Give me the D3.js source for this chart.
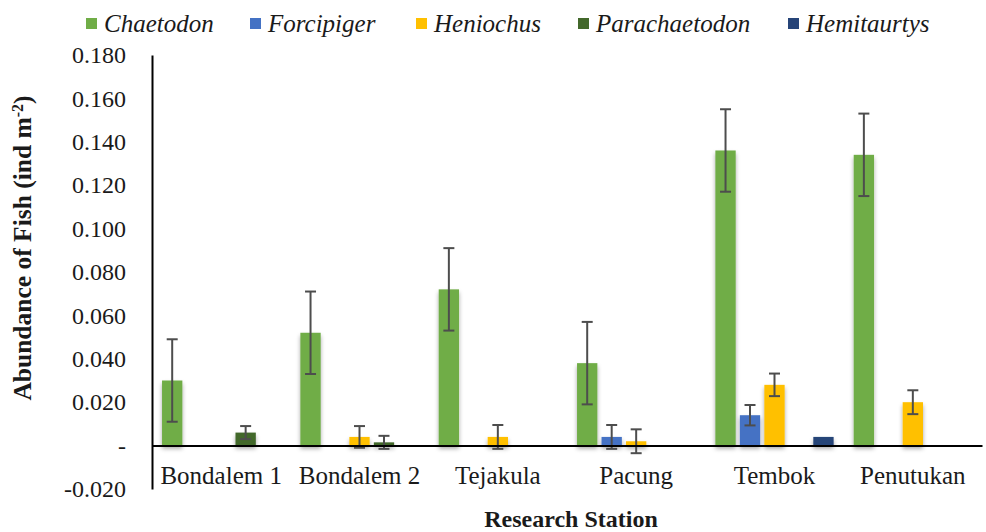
<!DOCTYPE html>
<html>
<head>
<meta charset="utf-8">
<script src="https://cdn.jsdelivr.net/npm/d3@7/dist/d3.min.js"></script>
<style>
  html, body { margin: 0; padding: 0; background: #fff; }
  svg { display: block; }
  text { font-family: "Liberation Serif", "Times New Roman", serif; fill: #1a1a1a; }
</style>
</head>
<body>
<svg id="chart" width="986" height="532"></svg>
<script>
// Butterflyfish abundance per research station (ind m^-2), mean ± error
const stations = ["Bondalem 1", "Bondalem 2", "Tejakula", "Pacung", "Tembok", "Penutukan"];
const genera = ["Chaetodon", "Forcipiger", "Heniochus", "Parachaetodon", "Hemitaurtys"];
const colors = ["#70AD47", "#4472C4", "#FFC000", "#43682B", "#264478"];

const chaetodon      = [0.030, 0.052, 0.072, 0.038, 0.136, 0.134];
const forcipiger     = [0, 0, 0, 0.004, 0.014, 0];
const heniochus      = [0, 0.004, 0.004, 0.002, 0.028, 0.020];
const parachaetodon  = [0.006, 0.0015, 0, 0, 0, 0];
const hemitaurtys    = [0, 0, 0, 0, 0.004, 0];

const chaetodonErr     = [0.019, 0.019, 0.019, 0.019, 0.019, 0.019];
const forcipigerErr    = [0, 0, 0, 0.0055, 0.0047, 0];
const heniochusErr     = [0, 0.005, 0.0055, 0.0055, 0.0052, 0.0055];
const parachaetodonErr = [0.003, 0.003, 0, 0, 0, 0];
const hemitaurtysErr   = [0, 0, 0, 0, 0, 0];

const yTicks = [-0.02, 0, 0.02, 0.04, 0.06, 0.08, 0.10, 0.12, 0.14, 0.16, 0.18];
const yTickLabels = ["-0.020", "-", "0.020", "0.040", "0.060", "0.080", "0.100", "0.120", "0.140", "0.160", "0.180"];

const values = [chaetodon, forcipiger, heniochus, parachaetodon, hemitaurtys];
const errors = [chaetodonErr, forcipigerErr, heniochusErr, parachaetodonErr, hemitaurtysErr];

const rows = [];
genera.forEach((g, gi) => {
  stations.forEach((s, si) => {
    rows.push({ genus: g, gi, station: s, value: values[gi][si], err: errors[gi][si] });
  });
});

const svg = d3.select("#chart");
const plot = { left: 152, right: 982, top: 55, bottom: 489 };

const x0 = d3.scaleBand().domain(stations).range([plot.left, plot.right]).padding(0);
const x1 = d3.scaleBand().domain(genera).range([0, x0.bandwidth()])
  .paddingInner(0.17).paddingOuter(0.41);
const y = d3.scaleLinear().domain([-0.02, 0.18]).range([plot.bottom, plot.top]);

// soft drop shadow under the bars
const defs = svg.append("defs");
const f = defs.append("filter").attr("id", "shadow")
  .attr("x", "-50%").attr("y", "-20%").attr("width", "200%").attr("height", "150%");
f.append("feDropShadow").attr("dx", 0).attr("dy", 3).attr("stdDeviation", 2.2)
  .attr("flood-color", "#000").attr("flood-opacity", 0.35);

// bars
svg.append("g").attr("filter", "url(#shadow)")
  .selectAll("rect").data(rows.filter(d => d.value > 0)).join("rect")
  .attr("x", d => x0(d.station) + x1(d.genus))
  .attr("width", x1.bandwidth())
  .attr("y", d => y(d.value))
  .attr("height", d => y(0) - y(d.value))
  .attr("fill", d => colors[d.gi]);

// error bars
const eb = svg.append("g").attr("stroke", "#4d4d4d").attr("stroke-width", 2);
const withErr = rows.filter(d => d.err > 0);
const cx = d => x0(d.station) + x1(d.genus) + x1.bandwidth() / 2;
eb.selectAll("line.v").data(withErr).join("line").attr("class", "v")
  .attr("x1", cx).attr("x2", cx)
  .attr("y1", d => y(d.value + d.err)).attr("y2", d => y(d.value - d.err));
eb.selectAll("line.t").data(withErr).join("line").attr("class", "t")
  .attr("x1", d => cx(d) - 5.5).attr("x2", d => cx(d) + 5.5)
  .attr("y1", d => y(d.value + d.err)).attr("y2", d => y(d.value + d.err));
eb.selectAll("line.b").data(withErr).join("line").attr("class", "b")
  .attr("x1", d => cx(d) - 5.5).attr("x2", d => cx(d) + 5.5)
  .attr("y1", d => y(d.value - d.err)).attr("y2", d => y(d.value - d.err));

// y axis
const yAxis = d3.axisLeft(y).tickValues(yTicks).tickSize(0).tickPadding(26)
  .tickFormat((d, i) => yTickLabels[i]);
const gy = svg.append("g").attr("transform", `translate(${plot.left},0)`).call(yAxis);
gy.select(".domain").attr("stroke", "#000").attr("stroke-width", 2);
gy.selectAll("text").style("font-size", "24px").style("font-family", "Liberation Serif").attr("fill", "#1a1a1a");

// x axis along zero
const xAxis = d3.axisBottom(x0).tickSize(0).tickPadding(0);
const gx = svg.append("g").attr("transform", `translate(0,${y(0)})`).call(xAxis);
gx.select(".domain").attr("stroke", "#000").attr("stroke-width", 2);
gx.selectAll("text").style("font-size", "25px").style("font-family", "Liberation Serif")
  .attr("fill", "#1a1a1a").attr("dy", null).attr("y", 38);

// axis titles
svg.append("text")
  .attr("x", 571).attr("y", 527)
  .attr("text-anchor", "middle")
  .style("font-size", "24px").style("font-weight", "bold")
  .text("Research Station");

const yt = svg.append("text")
  .attr("transform", "translate(31,248) rotate(-90)")
  .attr("text-anchor", "middle")
  .style("font-size", "25.5px").style("font-weight", "bold");
yt.append("tspan").text("Abundance of Fish (ind m");
yt.append("tspan").attr("baseline-shift", "super").style("font-size", "16px").text("-2");
yt.append("tspan").text(")");

// legend
const legendX = [86, 250, 416, 578, 788];
const lg = svg.append("g");
genera.forEach((g, i) => {
  lg.append("rect").attr("x", legendX[i]).attr("y", 18).attr("width", 11).attr("height", 11)
    .attr("fill", colors[i]);
  lg.append("text").attr("x", legendX[i] + 18).attr("y", 32)
    .style("font-size", "25px").style("font-style", "italic").text(g);
});
</script>
</body>
</html>
